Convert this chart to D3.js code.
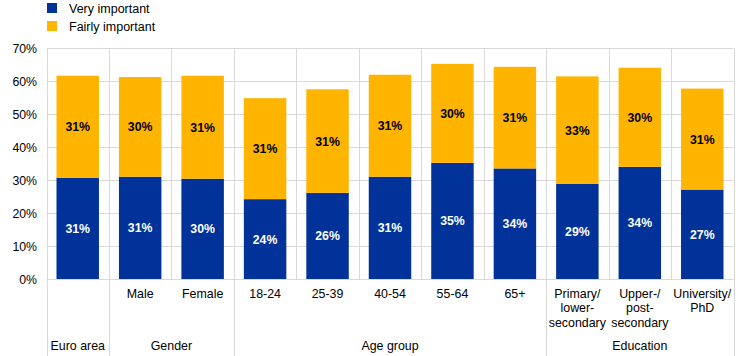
<!DOCTYPE html>
<html><head><meta charset="utf-8">
<script src="https://cdn.jsdelivr.net/npm/d3@7"></script>
<style>body{margin:0;background:#fff}svg{display:block;font-family:"Liberation Sans",Arial,sans-serif}</style>
</head><body><svg id="c" width="744" height="356"></svg>
<script>
const categories = ["Euro area","Male","Female","18-24","25-39","40-54","55-64","65+","Primary/\nlower-\nsecondary","Upper-/\npost-\nsecondary","University/\nPhD"];
const categoryLabels = ["","Male","Female","18-24","25-39","40-54","55-64","65+","Primary/\nlower-\nsecondary","Upper-/\npost-\nsecondary","University/\nPhD"];
const veryImportant   = [30.7,31.0,30.4,24.2,26.1,31.0,35.2,33.5,28.8,34.0,27.1];
const fairlyImportant = [30.9,30.2,31.2,30.6,31.4,30.9,30.0,30.8,32.6,30.0,30.6];
const groupNames = ["Euro area","Gender","Age group","Education"];
const groupSizes = [1,2,5,3];
const seriesNames = ["Very important","Fairly important"];
const yTicks = [0,10,20,30,40,50,60,70];

const colors = ["#003299","#FFB400"];
const svg = d3.select("#c");
const m = {left:46.5, right:733.5, top:48, bottom:279};
const x = d3.scaleBand().domain(categories).range([m.left,m.right]).paddingInner(0.32).paddingOuter(0.16);
const xb = d3.scaleBand().domain(categories).range([m.left,m.right]);
const y = d3.scaleLinear().domain([0,70]).range([m.bottom,m.top]);
const grid = "#d9d9d9";

// horizontal gridlines
svg.append("g").selectAll("line").data(yTicks).join("line")
  .attr("x1",m.left).attr("x2",m.right).attr("y1",d=>Math.round(y(d))+0.5).attr("y2",d=>Math.round(y(d))+0.5)
  .attr("stroke",grid).attr("stroke-width",1);
// vertical gridlines within plot
const bounds = categories.map(c=>xb(c)).concat([m.right]);
svg.append("g").selectAll("line").data(bounds).join("line")
  .attr("x1",d=>Math.round(d)+0.5).attr("x2",d=>Math.round(d)+0.5).attr("y1",m.top).attr("y2",m.bottom)
  .attr("stroke",grid);
// group boundaries extending below
let acc=0; const gb=[m.left];
groupSizes.forEach(s=>{acc+=s; gb.push(acc<categories.length? xb(categories[acc]) : m.right);});
svg.append("g").selectAll("line").data(gb).join("line")
  .attr("x1",d=>Math.round(d)+0.5).attr("x2",d=>Math.round(d)+0.5).attr("y1",m.bottom).attr("y2",356)
  .attr("stroke",grid);

// y tick labels
svg.append("g").selectAll("text").data(yTicks).join("text")
  .attr("x",37).attr("y",d=>y(d)+4.5).attr("text-anchor","end").attr("font-size",12.3).attr("fill","#000")
  .text(d=>d+"%");

// bars
const stackData = categories.map((c,i)=>({c, v:veryImportant[i], f:fairlyImportant[i]}));
const stack = d3.stack().keys(["v","f"])(stackData);
stack.forEach((layer,li)=>{
  const g = svg.append("g");
  g.selectAll("rect").data(layer).join("rect")
    .attr("x",d=>x(d.data.c)).attr("width",x.bandwidth())
    .attr("y",d=>y(d[1])).attr("height",d=>y(d[0])-y(d[1]))
    .attr("fill",colors[li]);
  g.selectAll("text").data(layer).join("text")
    .attr("x",d=>x(d.data.c)+x.bandwidth()/2).attr("y",d=>(y(d[0])+y(d[1]))/2+4.5)
    .attr("text-anchor","middle").attr("font-size",12.3).attr("font-weight","bold")
    .attr("fill",li===0?"#fff":"#000")
    .text(d=>Math.round(d[1]-d[0])+"%");
});

// category labels
categories.forEach((c,i)=>{
  const lines = categoryLabels[i].split("\n").filter(s=>s.length);
  const t = svg.append("text").attr("text-anchor","middle").attr("font-size",12.4).attr("fill","#000");
  lines.forEach((l,j)=>t.append("tspan").attr("x",xb(c)+xb.bandwidth()/2).attr("y",298+j*14.3).text(l));
});
// group labels
groupNames.forEach((g,i)=>{
  svg.append("text").attr("x",(gb[i]+gb[i+1])/2).attr("y",350).attr("text-anchor","middle")
    .attr("font-size",12.4).attr("fill","#000").text(g);
});

// legend
seriesNames.forEach((s,i)=>{
  svg.append("rect").attr("x",47).attr("y",3+i*18).attr("width",10).attr("height",10).attr("fill",colors[i]);
  svg.append("text").attr("x",69).attr("y",12.5+i*18).attr("font-size",12.5).attr("fill","#000").text(s);
});
</script></body></html>
